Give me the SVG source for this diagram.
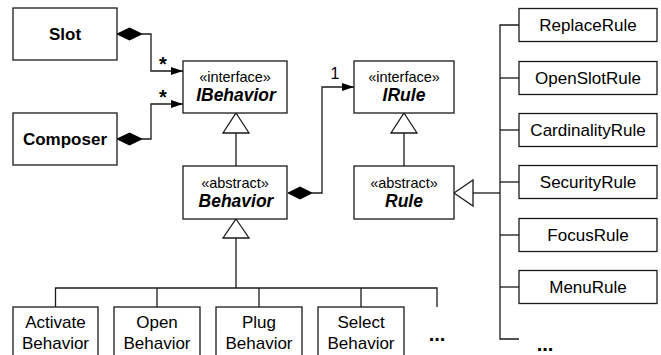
<svg xmlns="http://www.w3.org/2000/svg" width="661" height="355" viewBox="0 0 661 355">
  <defs>
    <style>
      .box { fill: #ffffff; stroke: #1a1a1a; stroke-width: 1.3; }
      .line { fill: none; stroke: #1a1a1a; stroke-width: 1.3; }
      .gen { fill: #ffffff; stroke: #1a1a1a; stroke-width: 1.3; }
      .comp { fill: #000000; stroke: #000000; stroke-width: 1; }
      text { font-family: "Liberation Sans", Arial, sans-serif; fill: #000000; text-anchor: middle; }
      .name { font-size: 17px; }
      .bold { font-size: 17px; font-weight: bold; }
      .stereo { font-size: 14.5px; }
      .abs { font-size: 17.5px; font-weight: bold; font-style: italic; }
      .mult { font-size: 16px; }
      .star { font-size: 20px; font-weight: bold; }
      .dots { font-size: 20px; font-weight: bold; }
    </style>
    <marker id="navArrow" viewBox="0 0 12 10" refX="12" refY="5" markerWidth="12" markerHeight="10" markerUnits="userSpaceOnUse" orient="auto">
      <path d="M0,1 L12,5 L0,9 Z" fill="#000000"/>
    </marker>
  </defs>

  <!-- connectors -->
  <g id="connectors">
    <!-- Slot / Composer aggregate IBehavior -->
    <polyline class="line" points="142,34 151,34 151,71 183,71" marker-end="url(#navArrow)"/>
    <polygon class="comp" points="117,34 129.5,28 142,34 129.5,40"/>
    <polyline class="line" points="142,139 151,139 151,104 183,104" marker-end="url(#navArrow)"/>
    <polygon class="comp" points="117,139 129.5,133 142,139 129.5,145"/>
    <text class="star" x="163" y="70.5">*</text>
    <text class="star" x="163" y="103.5">*</text>

    <!-- Behavior to IBehavior -->
    <line class="line" x1="236" y1="133" x2="236" y2="166"/>
    <polygon class="gen" points="236,113 249,133 223,133"/>

    <!-- Behavior composes IRule -->
    <polyline class="line" points="312,193 322,193 322,87 354,87" marker-end="url(#navArrow)"/>
    <polygon class="comp" points="288,193 300,187 312,193 300,199"/>
    <text class="mult" x="335" y="79">1</text>

    <!-- Rule to IRule -->
    <line class="line" x1="404" y1="133" x2="404" y2="166"/>
    <polygon class="gen" points="404,113 417,133 391,133"/>

    <!-- behavior subclasses -->
    <polyline class="line" points="55.5,307 55.5,288 437,288 437,307"/>
    <line class="line" x1="157" y1="288" x2="157" y2="307"/>
    <line class="line" x1="259" y1="288" x2="259" y2="307"/>
    <line class="line" x1="361" y1="288" x2="361" y2="307"/>
    <line class="line" x1="236" y1="238" x2="236" y2="288"/>
    <polygon class="gen" points="236,219 249,238 223,238"/>

    <!-- rule subclasses -->
    <line class="line" x1="473" y1="193" x2="500" y2="193"/>
    <polyline class="line" points="519,25 500,25 500,339 519,339"/>
    <line class="line" x1="500" y1="78" x2="519" y2="78"/>
    <line class="line" x1="500" y1="130" x2="519" y2="130"/>
    <line class="line" x1="500" y1="182" x2="519" y2="182"/>
    <line class="line" x1="500" y1="235" x2="519" y2="235"/>
    <line class="line" x1="500" y1="287" x2="519" y2="287"/>
    <polygon class="gen" points="454,193 473,180 473,206"/>
  </g>

  <g id="slot">
    <rect class="box" x="13" y="8" width="104" height="52"/>
    <text class="bold" x="65" y="40">Slot</text>
  </g>
  <g id="composer">
    <rect class="box" x="13" y="113" width="104" height="52"/>
    <text class="bold" x="65" y="145">Composer</text>
  </g>
  <g id="ibehavior">
    <rect class="box" x="183" y="61" width="104" height="52"/>
    <text class="stereo" x="235" y="82">«interface»</text>
    <text class="abs" x="236" y="101">IBehavior</text>
  </g>
  <g id="behavior">
    <rect class="box" x="183" y="166" width="104" height="53"/>
    <text class="stereo" x="235" y="188">«abstract»</text>
    <text class="abs" x="236" y="207">Behavior</text>
  </g>
  <g id="irule">
    <rect class="box" x="354" y="61" width="100" height="52"/>
    <text class="stereo" x="404" y="82">«interface»</text>
    <text class="abs" x="404" y="101">IRule</text>
  </g>
  <g id="rule">
    <rect class="box" x="354" y="166" width="100" height="53"/>
    <text class="stereo" x="404" y="188">«abstract»</text>
    <text class="abs" x="404" y="207">Rule</text>
  </g>

  <g id="replace-rule">
    <rect class="box" x="519" y="8.5" width="138" height="33"/>
    <text class="name" x="588" y="31">ReplaceRule</text>
  </g>
  <g id="open-slot-rule">
    <rect class="box" x="519" y="61.5" width="138" height="33"/>
    <text class="name" x="588" y="84">OpenSlotRule</text>
  </g>
  <g id="cardinality-rule">
    <rect class="box" x="519" y="113.5" width="138" height="33"/>
    <text class="name" x="588" y="136">CardinalityRule</text>
  </g>
  <g id="security-rule">
    <rect class="box" x="519" y="165.5" width="138" height="33"/>
    <text class="name" x="588" y="188">SecurityRule</text>
  </g>
  <g id="focus-rule">
    <rect class="box" x="519" y="218.5" width="138" height="33"/>
    <text class="name" x="588" y="241">FocusRule</text>
  </g>
  <g id="menu-rule">
    <rect class="box" x="519" y="270.5" width="138" height="33"/>
    <text class="name" x="588" y="293">MenuRule</text>
  </g>
  <text class="dots" x="545" y="351">...</text>

  <g id="activate-behavior">
    <rect class="box" x="13" y="307" width="85" height="60"/>
    <text class="name" x="55.5" y="328">Activate</text>
    <text class="name" x="55.5" y="349">Behavior</text>
  </g>
  <g id="open-behavior">
    <rect class="box" x="114" y="307" width="86" height="60"/>
    <text class="name" x="157" y="328">Open</text>
    <text class="name" x="157" y="349">Behavior</text>
  </g>
  <g id="plug-behavior">
    <rect class="box" x="216" y="307" width="86" height="60"/>
    <text class="name" x="259" y="328">Plug</text>
    <text class="name" x="259" y="349">Behavior</text>
  </g>
  <g id="select-behavior">
    <rect class="box" x="318" y="307" width="86" height="60"/>
    <text class="name" x="361" y="328">Select</text>
    <text class="name" x="361" y="349">Behavior</text>
  </g>
  <text class="dots" x="437" y="341">...</text>
</svg>
